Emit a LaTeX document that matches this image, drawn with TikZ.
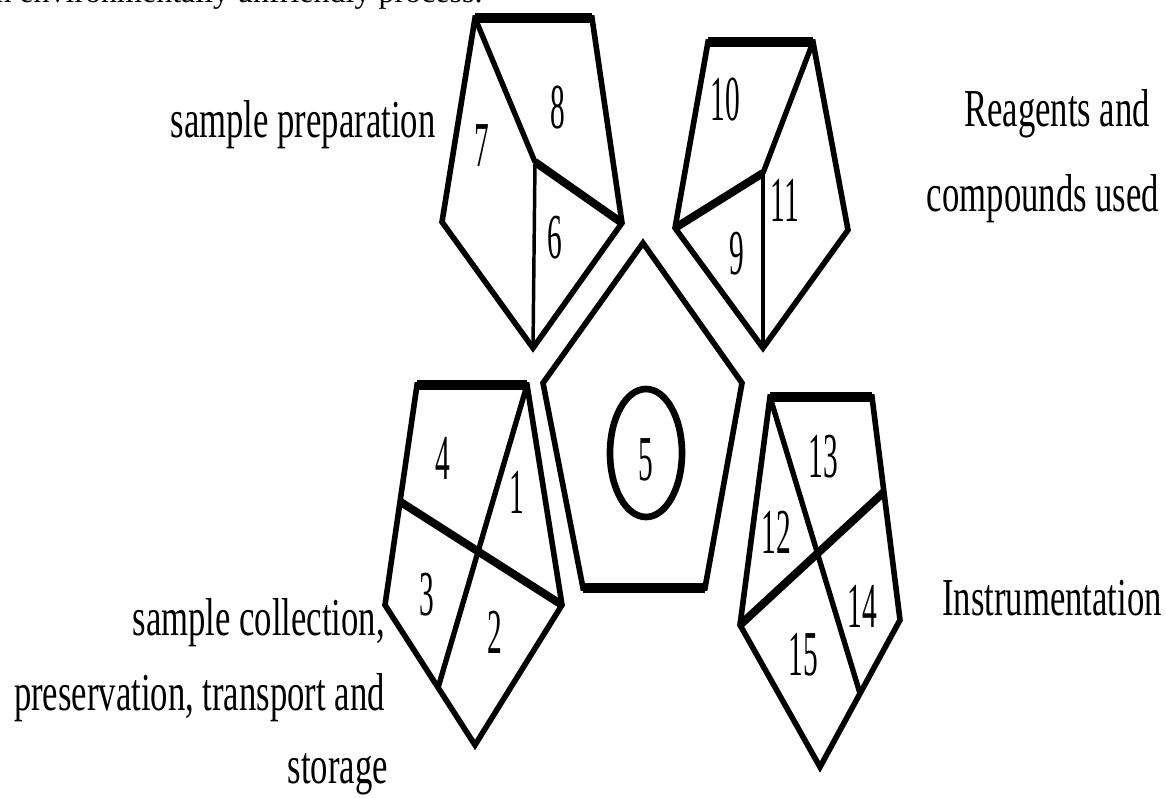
\documentclass[tikz,border=0pt]{standalone}
\usepackage{fontspec}
\setmainfont{Liberation Serif}
\usepackage{graphicx}
\usetikzlibrary{calc}
\newcommand{\lbl}[1]{\scalebox{0.65}[1]{#1}}
\newcommand{\dgt}[1]{\scalebox{0.46}[1]{#1}}
\begin{document}
\begin{tikzpicture}[x=0.75pt,y=-0.75pt,
  outline/.style={line width=4.2pt, line join=miter},
  topedge/.style={line width=7.5pt},
  bar/.style={line width=6pt},
  seam/.style={line width=4pt},
  hair/.style={line width=2.6pt},
  lab/.style={font=\fontsize{40}{44}\selectfont, inner sep=0pt, anchor=base},
  num/.style={font=\fontsize{48}{52}\selectfont, inner sep=0pt},
]
\useasboundingbox (0,0) rectangle (1166,798);
\begin{scope}
\clip (0,0) rectangle (1166,798);
\node[font=\fontsize{24}{28}\selectfont, inner sep=0pt, anchor=base west] (cut) at (-19,3) {an environmentally unfriendly process.};
\end{scope}

% top-left pentagon: sample preparation
\coordinate (A1) at (475,18); \coordinate (A2) at (592,18);
\coordinate (A3) at (622,223); \coordinate (A4) at (533,348);
\coordinate (A5) at (442,222); \coordinate (Ac) at (535,162);
\draw[outline] (A1) -- (A2) -- (A3) -- (A4) -- (A5) -- cycle;
\draw[topedge] (A1) -- (A2);
\draw[seam] (A1) -- (Ac);
\draw[bar] (Ac) -- (A3);
\draw[hair] (Ac) -- (A4);
\node[num] (n7) at (482,146) {\dgt{7}};
\node[num] (n8) at (558,108) {\dgt{8}};
\node[num] (n6) at (555,238) {\dgt{6}};

% top-right pentagon: reagents
\coordinate (B1) at (708,42); \coordinate (B2) at (813,42);
\coordinate (B3) at (848,230); \coordinate (B4) at (763,348);
\coordinate (B5) at (675,228); \coordinate (Bc) at (763,173);
\draw[outline] (B1) -- (B2) -- (B3) -- (B4) -- (B5) -- cycle;
\draw[topedge] (B1) -- (B2);
\draw[seam] (B2) -- (Bc);
\draw[bar] (Bc) -- (B5);
\draw[hair] (Bc) -- (B4);
\node[num] (n10) at (725,100) {\dgt{10}};
\node[num] (n11) at (785,200) {\dgt{11}};
\node[num] (n9) at (737,254) {\dgt{9}};

% centre pentagon
\coordinate (C1) at (643,243); \coordinate (C2) at (742,383);
\coordinate (C3) at (705,588); \coordinate (C4) at (583,588);
\coordinate (C5) at (543,383);
\draw[outline] (C1) -- (C2) -- (C3) -- (C4) -- (C5) -- cycle;
\draw[topedge] (C3) -- (C4);
\draw[line width=5pt] (646,453) ellipse [x radius=36, y radius=64];
\node[num] (n5) at (646,460) {\dgt{5}};

% bottom-left pentagon: sample collection
\coordinate (D1) at (417,385); \coordinate (D2) at (527,385);
\coordinate (D3) at (562,605); \coordinate (D4) at (475,745);
\coordinate (D5) at (385,605);
\coordinate (Dl) at ($(D1)!0.53!(D5)$);
\coordinate (Db) at ($(D5)!0.59!(D4)$);
\draw[outline] (D1) -- (D2) -- (D3) -- (D4) -- (D5) -- cycle;
\draw[topedge] (D1) -- (D2);
\draw[bar] (Dl) -- (D3);
\draw[seam] (D2) -- (Db);
\node[num] (n4) at (443,458) {\dgt{4}};
\node[num] (n1) at (517,492) {\dgt{1}};
\node[num] (n3) at (427,595) {\dgt{3}};
\node[num] (n2) at (495,632) {\dgt{2}};

% bottom-right pentagon: instrumentation
\coordinate (E1) at (770,397); \coordinate (E2) at (872,397);
\coordinate (E3) at (900,620); \coordinate (E4) at (820,767);
\coordinate (E5) at (740,625);
\coordinate (Er) at ($(E2)!0.426!(E3)$);
\coordinate (Eb) at ($(E3)!0.5!(E4)$);
\draw[outline] (E1) -- (E2) -- (E3) -- (E4) -- (E5) -- cycle;
\draw[topedge] (E1) -- (E2);
\draw[bar] (E5) -- (Er);
\draw[seam] (E1) -- (Eb);
\node[num] (n13) at (823,457) {\dgt{13}};
\node[num] (n12) at (776,532) {\dgt{12}};
\node[num] (n14) at (862,606) {\dgt{14}};
\node[num] (n15) at (803,655) {\dgt{15}};

% labels
\node[lab] (prep) at (303,138) {\lbl{sample preparation}};
\node[lab] (reag1) at (1057,127) {\lbl{Reagents and}};
\node[lab] (reag2) at (1043,212) {\lbl{compounds used}};
\node[lab] (instr) at (1052,615) {\lbl{Instrumentation}};
\node[lab, anchor=base east] (coll1) at (385,635) {\lbl{sample collection,}};
\node[lab, anchor=base east] (coll2) at (385,710) {\lbl{preservation, transport and}};
\node[lab, anchor=base east] (coll3) at (388,783) {\lbl{storage}};
\end{tikzpicture}
\end{document}
